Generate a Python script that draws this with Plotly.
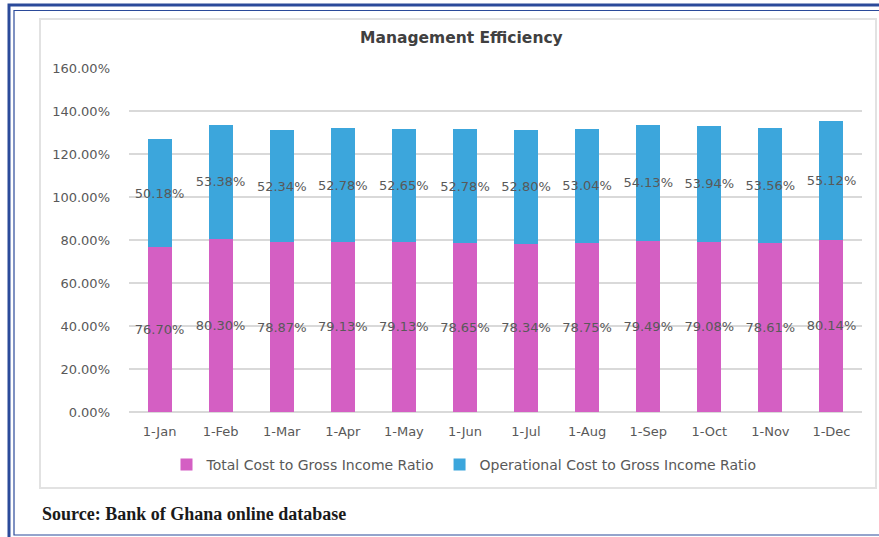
import plotly.graph_objects as go

months = ["1-Jan", "1-Feb", "1-Mar", "1-Apr", "1-May", "1-Jun",
          "1-Jul", "1-Aug", "1-Sep", "1-Oct", "1-Nov", "1-Dec"]
total_cost = [76.70, 80.30, 78.87, 79.13, 79.13, 78.65,
              78.34, 78.75, 79.49, 79.08, 78.61, 80.14]
oper_cost = [50.18, 53.38, 52.34, 52.78, 52.65, 52.78,
             52.80, 53.04, 54.13, 53.94, 53.56, 55.12]
y_ticks = [0, 20, 40, 60, 80, 100, 120, 140, 160]

PINK = "#D45FC3"
BLUE = "#3CA6DC"
TXT = "#595959"
FONT = "DejaVu Sans"

W, H = 879, 537
L, R, T, B = 129, 862, 68, 412


def px(x):
    return (x - L) / (R - L)


def py(y):
    return (B - y) / (B - T)


fig = go.Figure()
fig.add_trace(go.Bar(
    x=months, y=total_cost, name="Total Cost to Gross Income Ratio",
    marker=dict(color=PINK, line=dict(width=0)),
    text=[f"{v:.2f}%" for v in total_cost],
    textposition="inside", insidetextanchor="middle", textangle=0,
    constraintext="none",
    textfont=dict(family=FONT, size=13, color=TXT),
    hoverinfo="skip",
))
fig.add_trace(go.Bar(
    x=months, y=oper_cost, name="Operational Cost to Gross Income Ratio",
    marker=dict(color=BLUE, line=dict(width=0)),
    text=[f"{v:.2f}%" for v in oper_cost],
    textposition="inside", insidetextanchor="middle", textangle=0,
    constraintext="none",
    textfont=dict(family=FONT, size=13, color=TXT),
    hoverinfo="skip",
))

shapes = [
    # chart area border
    dict(type="rect", xref="paper", yref="paper",
         x0=px(40), x1=px(876), y0=py(19), y1=py(488),
         line=dict(color="#E2E2E2", width=2), layer="below"),
    # outer thick frame
    dict(type="rect", xref="paper", yref="paper",
         x0=px(9), x1=px(900), y0=py(5), y1=py(560),
         line=dict(color="#2B4A9A", width=3), layer="below"),
    # inner thin frame
    dict(type="rect", xref="paper", yref="paper",
         x0=px(14), x1=px(900), y0=py(10.5), y1=py(535),
         line=dict(color="#2B4A9A", width=1.2), layer="below"),
]

annotations = [
    dict(text="<b>Management Efficiency</b>", xref="paper", yref="paper",
         x=px(461), y=py(38), showarrow=False, xanchor="center", yanchor="middle",
         font=dict(family=FONT, size=15.5, color="#404040")),
    dict(text="<b>Source: Bank of Ghana online database</b>", xref="paper", yref="paper",
         x=px(40), y=py(514), showarrow=False, xanchor="left", yanchor="middle",
         font=dict(family="Liberation Serif", size=18, color="#1A1A1A")),
]

fig.update_layout(
    width=W, height=H,
    margin=dict(l=L, r=W - R, t=T, b=H - B),
    barmode="stack", bargap=0.607,
    paper_bgcolor="white", plot_bgcolor="white",
    showlegend=True,
    legend=dict(orientation="h", xanchor="center", yanchor="middle",
                x=px(464), y=py(465),
                font=dict(family=FONT, size=14, color=TXT),
                itemsizing="constant", traceorder="normal",
                bgcolor="rgba(0,0,0,0)"),
    shapes=shapes, annotations=annotations,
)
fig.update_yaxes(range=[0, 160], tickvals=y_ticks,
                 ticktext=[f"{v:.2f}%" for v in y_ticks],
                 showgrid=True, gridcolor="#D9D9D9", gridwidth=1.5,
                 zeroline=True, zerolinecolor="#D9D9D9", zerolinewidth=1.5,
                 showline=False, ticks="", ticklabelstandoff=18,
                 tickfont=dict(family=FONT, size=13, color=TXT))
fig.update_xaxes(showgrid=False, showline=False, ticks="",
                 ticklabelstandoff=10,
                 tickfont=dict(family=FONT, size=13, color=TXT))

fig.write_html("out.html", config={"displayModeBar": False, "staticPlot": True})

with open("out.html", "r", encoding="utf-8") as f:
    html = f.read()
html = html.replace("<body>", '<body style="margin:0;overflow:hidden;">', 1)
with open("out.html", "w", encoding="utf-8") as f:
    f.write(html)
